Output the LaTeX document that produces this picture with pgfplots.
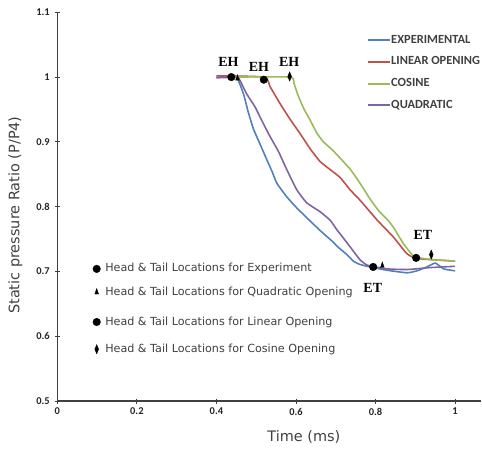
\documentclass[border=0pt]{standalone}
\usepackage{fontspec}
\setmainfont{DejaVu Sans}
\newfontfamily\carl{Carlito}
\newfontfamily\serifb{Liberation Serif}
\usepackage{pgfplots}
\pgfplotsset{compat=1.18}
\definecolor{cblue}{RGB}{79,129,189}
\definecolor{cred}{RGB}{192,80,77}
\definecolor{cgreen}{RGB}{155,187,89}
\definecolor{cpurple}{RGB}{128,100,162}
\definecolor{txt}{RGB}{64,64,64}
\begin{document}
\begin{tikzpicture}
\begin{axis}[name=ax, scale only axis, width=423.6bp, height=388.7bp,
  xmin=0, xmax=1.065, ymin=0.5, ymax=1.1,
  axis lines*=left,
  axis line style={draw=black!75, line width=1.3pt},
  xtick={0,0.2,0.4,0.6,0.8,1}, ytick={0.5,0.6,0.7,0.8,0.9,1,1.1},
  xticklabels={0,0.2,0.4,0.6,0.8,1},
  yticklabels={0.5,0.6,0.7,0.8,0.9,1,1.1},
  tick align=center, major tick length=5bp,
  tick style={draw=black!75, line width=1pt},
  /pgf/number format/assume math mode=true,
  tick label style={font=\carl\bfseries\fontsize{10.5}{12}\selectfont, text=black!85},
  xticklabel style={yshift=-1bp},
  yticklabel style={xshift=-1.5bp},
  xlabel={Time (ms)}, ylabel={Static pressure Ratio (P/P4)},
  label style={font=\fontsize{14.5}{16}\selectfont, text=txt},
  xlabel style={at={(rel axis cs:0.582,-0.0926)}, anchor=center},
  ylabel style={at={(rel axis cs:-0.0992,0.4785)}, anchor=center},
  legend style={at={(0.731,0.944)}, anchor=north west, draw=none, fill=none,
    font=\carl\bfseries\fontsize{12.5}{13}\selectfont, text=txt,
    row sep=10bp, inner sep=0pt,
    nodes={inner sep=0pt, text height=9bp, text depth=2.7bp}},
  legend cell align=left,
  legend image code/.code={\draw[#1, line width=2pt] (0bp,0bp) -- (22bp,0bp);},
  clip=false,
]
\addlegendimage{cblue, line width=2pt}
\addlegendentry{EXPERIMENTAL}
\addlegendimage{cred, line width=2pt}
\addlegendentry{LINEAR OPENING}
\addlegendimage{cgreen, line width=2pt}
\addlegendentry{COSINE}
\addlegendimage{cpurple, line width=2pt}
\addlegendentry{QUADRATIC}

% Experimental
\addplot[cblue, line width=1.6pt, forget plot, smooth, tension=0.3] coordinates {
(0.400,1.000) (0.450,1.000) (0.455,0.995) (0.468,0.974) (0.480,0.946)
(0.493,0.920) (0.510,0.896) (0.527,0.872) (0.540,0.854) (0.552,0.836)
(0.577,0.815) (0.602,0.798) (0.627,0.783) (0.661,0.763) (0.694,0.745)
(0.703,0.739) (0.728,0.726) (0.744,0.716) (0.760,0.711) (0.786,0.707)
(0.828,0.702) (0.879,0.698) (0.904,0.701) (0.929,0.707) (0.950,0.713)
(0.971,0.704) (1.000,0.701)};
% Quadratic
\addplot[cpurple, line width=1.6pt, forget plot, smooth, tension=0.3] coordinates {
(0.400,0.999) (0.452,0.999) (0.459,0.995) (0.476,0.974) (0.497,0.954)
(0.518,0.928) (0.535,0.908) (0.556,0.885) (0.577,0.857) (0.602,0.826)
(0.627,0.806) (0.661,0.792) (0.686,0.779) (0.703,0.764) (0.711,0.758)
(0.736,0.738) (0.761,0.718) (0.778,0.710) (0.800,0.707) (0.828,0.704)
(0.879,0.703) (0.937,0.706) (1.000,0.708)};
% Linear
\addplot[cred, line width=1.6pt, forget plot, smooth, tension=0.3] coordinates {
(0.400,1.002) (0.520,1.000) (0.535,0.985) (0.560,0.959) (0.585,0.935)
(0.610,0.913) (0.636,0.889) (0.660,0.870) (0.680,0.860) (0.711,0.845)
(0.736,0.826) (0.761,0.810) (0.803,0.780) (0.845,0.753) (0.878,0.728)
(0.904,0.720) (1.000,0.716)};
% Cosine
\addplot[cgreen, line width=1.6pt, forget plot, smooth, tension=0.3] coordinates {
(0.440,1.000) (0.585,1.000) (0.595,0.990) (0.605,0.972) (0.619,0.952)
(0.636,0.933) (0.652,0.914) (0.669,0.900) (0.694,0.886) (0.736,0.858)
(0.761,0.836) (0.786,0.812) (0.810,0.792) (0.830,0.780) (0.845,0.768)
(0.870,0.743) (0.895,0.724) (0.920,0.720) (0.950,0.718) (1.000,0.716)};

% Head/tail markers
\addplot[only marks, mark=*, mark size=3.8bp, black, forget plot] coordinates {
(0.4375,1.000) (0.519,0.996) (0.794,0.707) (0.902,0.721) (0.099,0.704) (0.099,0.622)};
\addplot[only marks, mark=triangle*, mark size=3.6bp, black, forget plot,
  mark options={xscale=0.6}] coordinates {
(0.453,0.998) (0.817,0.709) (0.099,0.668)};
\addplot[only marks, mark=diamond*, mark size=3.4bp, black, forget plot,
  mark options={xscale=0.75, yscale=1.35}] coordinates {
(0.584,1.001) (0.940,0.726) (0.099,0.580)};

\node[font=\serifb\bfseries\fontsize{14}{15}\selectfont] at (axis cs:0.430,1.024) {EH};
\node[font=\serifb\bfseries\fontsize{14}{15}\selectfont] at (axis cs:0.507,1.015) {EH};
\node[font=\serifb\bfseries\fontsize{14}{15}\selectfont] at (axis cs:0.583,1.024) {EH};
\node[font=\serifb\bfseries\fontsize{14}{15}\selectfont] at (axis cs:0.919,0.757) {ET};
\node[font=\serifb\bfseries\fontsize{14}{15}\selectfont] at (axis cs:0.793,0.675) {ET};

\node[anchor=west, inner sep=0pt, text=txt, font=\fontsize{11.2}{12}\selectfont] at (axis cs:0.12,0.704) {Head \& Tail Locations for Experiment};
\node[anchor=west, inner sep=0pt, text=txt, font=\fontsize{11.2}{12}\selectfont] at (axis cs:0.12,0.668) {Head \& Tail Locations for Quadratic Opening};
\node[anchor=west, inner sep=0pt, text=txt, font=\fontsize{11.2}{12}\selectfont] at (axis cs:0.12,0.622) {Head \& Tail Locations for Linear Opening};
\node[anchor=west, inner sep=0pt, text=txt, font=\fontsize{11.2}{12}\selectfont] at (axis cs:0.12,0.580) {Head \& Tail Locations for Cosine Opening};
\end{axis}
\pgfresetboundingbox
\path[use as bounding box] ([xshift=-57.3bp,yshift=-47bp]ax.south west) rectangle ([xshift=1bp,yshift=12.3bp]ax.north east);
\end{tikzpicture}
\end{document}
